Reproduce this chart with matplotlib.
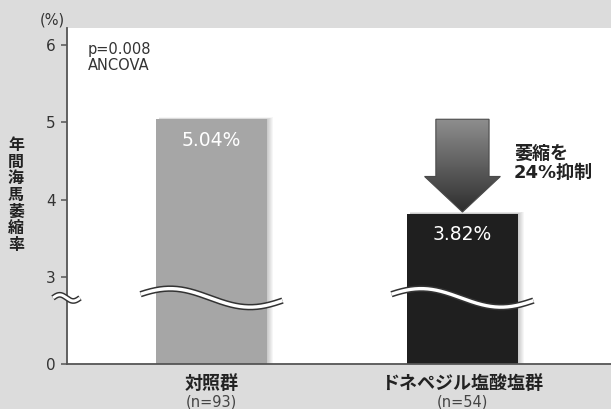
import numpy as np
import matplotlib
matplotlib.use("Agg")
import matplotlib.pyplot as plt
from matplotlib.patches import Polygon, Rectangle
from matplotlib.colors import LinearSegmentedColormap

plt.rcParams['font.family'] = ['DejaVu Sans', 'Noto Sans CJK JP']
JP = ['Noto Sans CJK JP', 'DejaVu Sans']

# --- data ---
categories = ["対照群", "ドネペジル塩酸塩群"]
group_n = ["(n=93)", "(n=54)"]
atrophy_rate = [5.04, 3.82]          # annual hippocampal atrophy rate (%)
value_labels = ["5.04%", "3.82%"]
ytick_values = [0, 3, 4, 5, 6]
stat_note = "p=0.008\nANCOVA"
reduction_note = "萎縮を\n24%抑制"
ylabel = "年間海馬萎縮率"
unit_label = "(%)"

# broken axis: the 0 baseline is drawn just below 3
ZERO_POS = 1.875
def to_axis(v):
    return ZERO_POS if v == 0 else v

BG = "#dcdcdc"
bar_colors = ["#a6a6a6", "#1f1f1f"]

fig = plt.figure(figsize=(6.11, 4.09), dpi=100, facecolor=BG)
ax = fig.add_axes([67/611, 45/409, 544/611, 336/409])
ax.set_facecolor("white")

x = np.arange(len(categories))
width = 0.44
ax.set_xlim(-0.576, 1.592)
ax.set_ylim(ZERO_POS, 6.22)

# soft shadow mostly on the right of each bar
for i, v in enumerate(atrophy_rate):
    for k in range(1, 7):
        dx = k * 0.004
        ax.add_patch(Rectangle((x[i] - width/2 + 0.01, ZERO_POS),
                               width - 0.01 + dx, v - ZERO_POS + k * 0.004,
                               facecolor="black", alpha=0.035, lw=0, zorder=1))

ax.bar(x, [v - ZERO_POS for v in atrophy_rate], bottom=ZERO_POS, width=width,
       color=bar_colors, zorder=2)

# value labels inside bars
for i, (v, lab) in enumerate(zip(atrophy_rate, value_labels)):
    ax.annotate(lab, (x[i], v), xytext=(0, -15), textcoords="offset points",
                ha="center", va="center", color="white", fontsize=13.5, zorder=5)

# wavy break marks across the bars
BREAK_Y = 2.73
def wave(xc, half, amp, period, phase_x, y0):
    xs = np.linspace(xc - half, xc + half, 200)
    ys = y0 + amp * np.cos(2 * np.pi * (xs - (xc + phase_x)) / period)
    return xs, ys

for i in range(len(categories)):
    xs, ys = wave(x[i], 0.283, 0.12, 0.637, -0.165, BREAK_Y)
    ax.plot(xs, ys, color="#333333", lw=4.6, solid_capstyle="butt", zorder=6)
    ax.plot(xs, ys, color="white", lw=2.4, solid_capstyle="butt", zorder=7)

# small break mark on the y axis
xs, ys = wave(-0.578, 0.054, 0.04, 0.108, -0.027, BREAK_Y)
ax.plot(xs, ys, color="#333333", lw=4.2, solid_capstyle="butt", zorder=8, clip_on=False)
ax.plot(xs, ys, color="white", lw=2.1, solid_capstyle="butt", zorder=9, clip_on=False)

# big gradient arrow from control value down to treatment value
ax_c = x[1]
top, tip = atrophy_rate[0], atrophy_rate[1]
head_start = 4.30
sw, hw = 0.106, 0.151
arrow_pts = [(ax_c - sw, top), (ax_c + sw, top), (ax_c + sw, head_start),
             (ax_c + hw, head_start), (ax_c, tip + 0.02), (ax_c - hw, head_start),
             (ax_c - sw, head_start)]
arrow = Polygon(arrow_pts, closed=True, facecolor="none", edgecolor="#4a4a4a",
                lw=0.8, zorder=11)
ax.add_patch(arrow)
cmap = LinearSegmentedColormap.from_list("arr", ["#2c2c2c", "#8e8e8e"])
grad = np.linspace(0, 1, 256).reshape(-1, 1)
im = ax.imshow(grad, extent=[ax_c - hw, ax_c + hw, tip, top], origin="lower",
               cmap=cmap, aspect="auto", zorder=10)
im.set_clip_path(arrow)

ax.text(x[1] + 0.205, 4.465, reduction_note, ha="left", va="center",
        fontsize=13, fontweight="bold", color="#222222", linespacing=1.1, zorder=12)

# statistics note
ax.text(0.038, 0.958, stat_note, transform=ax.transAxes, ha="left", va="top",
        fontsize=10.5, color="#333333", linespacing=1.1)

# axes styling
for s in ["top", "right"]:
    ax.spines[s].set_visible(False)
for s in ["left", "bottom"]:
    ax.spines[s].set_color("#555555")
    ax.spines[s].set_linewidth(1.3)
ax.set_yticks([to_axis(v) for v in ytick_values])
ax.set_yticklabels([str(v) for v in ytick_values])
ax.tick_params(axis="y", length=4, width=1.1, color="#555555", pad=4,
               labelsize=11, labelcolor="#333333")
ax.set_xticks([])

# category labels
trans = ax.get_xaxis_transform()
for i, (c, n) in enumerate(zip(categories, group_n)):
    ax.text(x[i], -0.057, c, transform=trans, ha="center", va="center",
            fontsize=13, fontweight="bold", color="#222222", family=JP)
    ax.text(x[i], -0.113, n, transform=trans, ha="center", va="center",
            fontsize=10.5, color="#444444")

fig.text(52/611, 1 - 20/409, unit_label, ha="center", va="center",
         fontsize=10.5, color="#333333")
fig.text(16/611, 1 - 195/409, "\n".join(ylabel), ha="center", va="center",
         fontsize=11.5, fontweight="bold", color="#222222", linespacing=1.04,
         family=JP)

fig.savefig("out.png", dpi=100, facecolor=BG)
